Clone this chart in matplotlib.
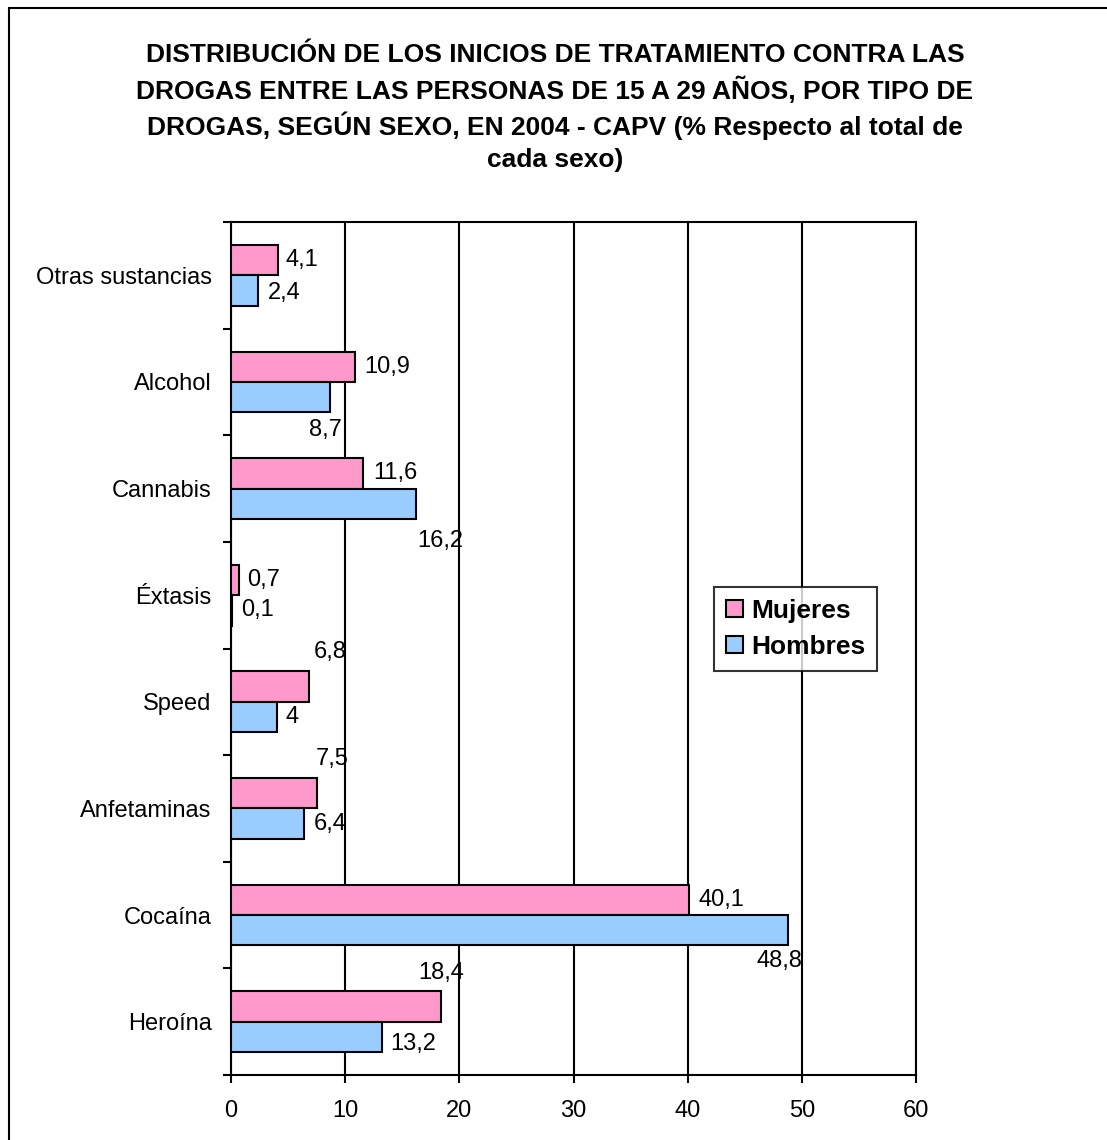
import matplotlib
matplotlib.use("Agg")
import matplotlib.pyplot as plt
import matplotlib.patches as mpatches
import numpy as np

plt.rcParams['font.family'] = ['Liberation Sans', 'DejaVu Sans']

categories = ["Otras sustancias", "Alcohol", "Cannabis", "Éxtasis", "Speed",
              "Anfetaminas", "Cocaína", "Heroína"]
mujeres = [4.1, 10.9, 11.6, 0.7, 6.8, 7.5, 40.1, 18.4]
hombres = [2.4, 8.7, 16.2, 0.1, 4.0, 6.4, 48.8, 13.2]
mujeres_lbl = ["4,1", "10,9", "11,6", "0,7", "6,8", "7,5", "40,1", "18,4"]
hombres_lbl = ["2,4", "8,7", "16,2", "0,1", "4", "6,4", "48,8", "13,2"]
xticks = [0, 10, 20, 30, 40, 50, 60]
title_lines = ["DISTRIBUCIÓN DE LOS INICIOS DE TRATAMIENTO CONTRA LAS",
               "DROGAS ENTRE LAS PERSONAS DE 15 A 29 AÑOS, POR TIPO DE",
               "DROGAS, SEGÚN SEXO, EN 2004 - CAPV (% Respecto al total de",
               "cada sexo)"]

# label offsets (pixels) relative to bar end / bar centre, left-aligned text
off_m = [(8, 0), (9, 0), (10, 0), (8, 0), (5, 35), (-1, 34), (10, 0), (-23, 33)]
off_h = [(9, -2), (-21, -33), (1, -37), (9, 0), (9, 0), (10, 0), (-32, -31), (9, -7)]

W, H = 1107, 1140
fig = plt.figure(figsize=(W / 100, H / 100), dpi=100)
ax = fig.add_axes([231 / W, 1 - 1075 / H, (916 - 231) / W, (1075 - 222) / H])

pink = "#FF99CC"
blue = "#99CCFF"
n = len(categories)
y = np.arange(n)
bh = 0.285
FS = 17

ax.barh(y - bh / 2, mujeres, height=bh, color=pink, edgecolor="black", linewidth=1.5,
        label="Mujeres", zorder=3)
ax.barh(y + bh / 2, hombres, height=bh, color=blue, edgecolor="black", linewidth=1.5,
        label="Hombres", zorder=3)

for i in range(n):
    ax.annotate(mujeres_lbl[i], xy=(mujeres[i], y[i] - bh / 2), xytext=off_m[i],
                textcoords="offset pixels", ha="left", va="center", fontsize=FS, zorder=4)
    ax.annotate(hombres_lbl[i], xy=(hombres[i], y[i] + bh / 2), xytext=off_h[i],
                textcoords="offset pixels", ha="left", va="center", fontsize=FS, zorder=4)

ax.set_xlim(0, 60)
ax.set_ylim(n - 0.5, -0.5)
ax.set_xticks(xticks)
ax.set_xticklabels([str(v) for v in xticks], fontsize=FS)
ax.tick_params(axis="x", direction="out", length=6, width=1.5, pad=12)
ax.set_yticks(y)
ax.set_yticklabels(categories, fontsize=FS)
ax.tick_params(axis="y", which="major", length=0, pad=14)
ax.set_yticks(np.arange(n + 1) - 0.5, minor=True)
ax.tick_params(axis="y", which="minor", direction="out", length=6, width=1.5)
ax.xaxis.grid(True, color="black", linewidth=1.5, zorder=0)
ax.set_axisbelow(True)
for s in ax.spines.values():
    s.set_linewidth(1.5)
    s.set_color("black")

leg = ax.legend(loc="upper left", bbox_to_anchor=(714 / W, 1 - 587 / H),
                bbox_transform=fig.transFigure, frameon=True, fancybox=False,
                edgecolor="black", prop={"weight": "bold", "size": 19},
                handlelength=0.65, handleheight=0.65, handletextpad=0.3,
                borderpad=0.45, labelspacing=0.45, borderaxespad=0)
leg.get_frame().set_linewidth(1.5)
for h in leg.legend_handles:
    h.set_linewidth(1.5)

line_y = [52, 88, 123, 157]
for txt, ly in zip(title_lines, line_y):
    fig.text(555 / W, 1 - ly / H, txt, ha="center", va="center_baseline", fontsize=19,
             fontweight="bold")

border = mpatches.Rectangle((9 / W, -0.1), 1.2, 1 - 8 / H + 0.1, transform=fig.transFigure,
                            fill=False, edgecolor="black", linewidth=1.5)
fig.add_artist(border)

fig.savefig("out.png", dpi=100, facecolor="white")
